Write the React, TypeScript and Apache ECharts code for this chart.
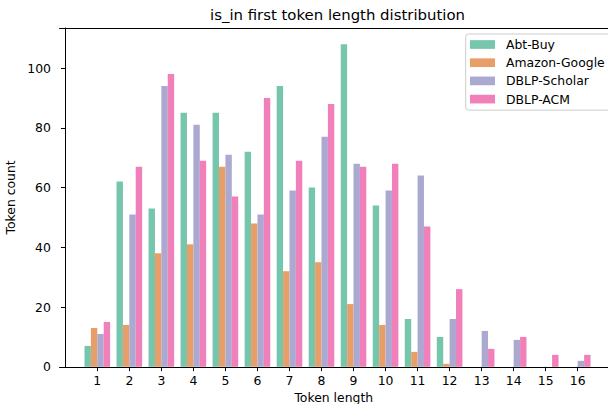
import React, { useEffect, useRef } from "react";
import * as echarts from "echarts";

const categories = [1, 2, 3, 4, 5, 6, 7, 8, 9, 10, 11, 12, 13, 14, 15, 16];
const seriesNames = ["Abt-Buy", "Amazon-Google", "DBLP-Scholar", "DBLP-ACM"];
const abtBuy = [7, 62, 53, 85, 85, 72, 94, 60, 108, 54, 16, 10, 0, 0, 0, 0];
const amazonGoogle = [13, 14, 38, 41, 67, 48, 32, 35, 21, 14, 5, 1, 0, 0, 0, 0];
const dblpScholar = [11, 51, 94, 81, 71, 51, 59, 77, 68, 59, 64, 16, 12, 9, 0, 2];
const dblpAcm = [15, 67, 98, 69, 57, 90, 69, 88, 67, 68, 47, 26, 6, 10, 4, 4];
const yTicks = [0, 20, 40, 60, 80, 100];
const colors = ["#76c5ad", "#e89f67", "#aca9d1", "#f17fb9"];

const FONT = "DejaVu Sans";

export default function App() {
  const ref = useRef<HTMLDivElement>(null);
  useEffect(() => {
    if (!ref.current) return;
    const chart = echarts.init(ref.current, null, { renderer: "svg" });
    const all = [abtBuy, amazonGoogle, dblpScholar, dblpAcm];
    const xMin = -0.18;
    const xMax = 16.945;
    chart.setOption({
      animation: false,
      textStyle: { fontFamily: FONT },
      graphic: [
        {
          type: "text",
          x: 337.5,
          y: 15,
          style: {
            text: "is_in first token length distribution",
            fontFamily: FONT,
            fontSize: 14.9,
            fill: "#000",
            align: "center",
            verticalAlign: "middle",
          },
        },
      ],
      legend: {
        orient: "vertical",
        left: 465.7,
        top: 34,
        padding: [3.5, 14, 4, 4.3],
        itemGap: 4.2,
        itemWidth: 25,
        itemHeight: 8.7,
        icon: "rect",
        backgroundColor: "rgba(255,255,255,0.8)",
        borderColor: "#cccccc",
        borderWidth: 1,
        borderRadius: 3,
        textStyle: {
          fontFamily: FONT,
          fontSize: 12.4,
          lineHeight: 14,
          color: "#000",
          padding: [0, 0, 0, 6],
        },
        data: seriesNames,
      },
      grid: {
        left: 59.5,
        right: 0,
        top: 28,
        bottom: 37.2,
        containLabel: false,
        outerBoundsMode: "none",
      },
      xAxis: [
        {
          type: "value",
          min: xMin,
          max: xMax,
          name: "Token length",
          nameLocation: "middle",
          nameGap: 23,
          nameTextStyle: { fontFamily: FONT, fontSize: 12.4, color: "#000" },
          splitLine: { show: false },
          axisLine: { show: true, onZero: false, lineStyle: { color: "#000", width: 1 } },
          axisTick: { show: true, length: 4.3, customValues: categories, lineStyle: { color: "#000" } },
          axisLabel: {
            customValues: categories,
            margin: 8,
            fontFamily: FONT,
            fontSize: 12.4,
            color: "#000",
          },
        },
        {
          type: "value",
          position: "top",
          min: xMin,
          max: xMax,
          splitLine: { show: false },
          axisLine: { show: true, onZero: false, lineStyle: { color: "#000", width: 1 } },
          axisTick: { show: false },
          axisLabel: { show: false },
        },
      ],
      yAxis: {
        type: "value",
        min: 0,
        max: 113.4,
        name: "Token count",
        nameLocation: "middle",
        nameGap: 40,
        nameTextStyle: { fontFamily: FONT, fontSize: 12.4, color: "#000" },
        splitLine: { show: false },
        axisLine: { show: true, lineStyle: { color: "#000", width: 1 } },
        axisTick: { show: true, length: 4.3, customValues: yTicks, lineStyle: { color: "#000" } },
        axisLabel: {
          customValues: yTicks,
          margin: 8.6,
          fontFamily: FONT,
          fontSize: 12.4,
          color: "#000",
        },
      },
      series: seriesNames.map((name, i) => ({
        name,
        type: "bar",
        xAxisIndex: 0,
        barWidth: 6.4,
        barGap: "0%",
        itemStyle: { color: colors[i] },
        data: categories.map((c, j) => [c, all[i][j]]),
      })),
    });
    return () => chart.dispose();
  }, []);
  return <div ref={ref} style={{ width: 608, height: 404, position: "absolute", left: 0, top: 0 }} />;
}
